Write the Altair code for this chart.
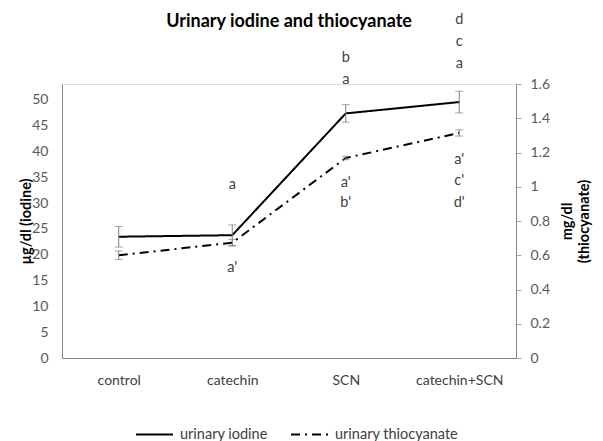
import altair as alt
import pandas as pd

categories = ["control", "catechin", "SCN", "catechin+SCN"]
iodine = [23.5, 23.8, 47.4, 49.6]
iodine_err = [2.0, 2.0, 1.7, 2.1]
thio = [0.60, 0.673, 1.168, 1.314]
thio_err = [0.025, 0.02, 0.01, 0.018]
series_names = ["urinary iodine", "urinary thiocyanate"]

# significance letters (category, letter, height in iodine units)
letter_cats = ["catechin", "catechin", "SCN", "SCN", "SCN", "SCN",
               "catechin+SCN", "catechin+SCN", "catechin+SCN",
               "catechin+SCN", "catechin+SCN", "catechin+SCN"]
letter_text = ["a", "a'", "b", "a", "a'", "b'", "d", "c", "a", "a'", "c'", "d'"]
letter_y = [33.5, 17.4, 58.1, 53.9, 33.9, 30.0, 65.5, 61.2, 57.0, 38.4, 34.3, 30.0]

FONT = "Lato"
GRAY_AX = "#868686"
TXT = "#404040"

df_i = pd.DataFrame({"category": categories, "value": iodine,
                     "lo": [v - e for v, e in zip(iodine, iodine_err)],
                     "hi": [v + e for v, e in zip(iodine, iodine_err)],
                     "series": series_names[0]})
df_t = pd.DataFrame({"category": categories, "value": thio,
                     "lo": [v - e for v, e in zip(thio, thio_err)],
                     "hi": [v + e for v, e in zip(thio, thio_err)],
                     "series": series_names[1]})
df_l = pd.DataFrame({"category": letter_cats, "label": letter_text, "y": letter_y})

x_axis = alt.Axis(title=None, labelAngle=0, ticks=False, domainColor=GRAY_AX,
                  labelColor=TXT, labelFontSize=14, labelFont=FONT, labelPadding=15)
x_scale = alt.Scale(type="point", padding=0.5)


def xenc():
    return alt.X("category:N", sort=categories, scale=x_scale, axis=x_axis)


dash = alt.StrokeDash("series:N",
                      scale=alt.Scale(domain=series_names, range=[[1, 0], [9, 5, 2, 5]]),
                      legend=alt.Legend(title=None, orient="none", direction="horizontal",
                                        legendX=73, legendY=331, symbolType="stroke",
                                        symbolSize=1369, symbolStrokeWidth=2,
                                        symbolStrokeColor="black",
                                        labelFont=FONT, labelFontSize=14.5, labelColor=TXT,
                                        labelOffset=6, columnPadding=19))

scale_i = alt.Scale(domain=[0, 53.1], nice=False, zero=True)
scale_t = alt.Scale(domain=[0, 1.6], nice=False, zero=True)

axis_i = alt.Axis(title="µg/dl (iodine)", values=list(range(0, 55, 5)), ticks=False,
                  grid=False, domainColor=GRAY_AX, labelColor="#595959",
                  labelFont=FONT, labelFontSize=14, labelPadding=14,
                  titleFont=FONT, titleFontSize=14.5, titleFontWeight="bold",
                  titleColor="black", titlePadding=-2)
axis_t = alt.Axis(orient="right", title=["mg/dl", "(thiocyanate)"],
                  values=[0, 0.2, 0.4, 0.6, 0.8, 1, 1.2, 1.4, 1.6],
                  format="~g", tickSize=5, tickColor="#a6a6a6", grid=False,
                  domainColor=GRAY_AX, labelColor="#595959", labelFont=FONT,
                  labelFontSize=14, labelPadding=9, titleFont=FONT,
                  titleFontSize=14.5, titleFontWeight="bold", titleColor="black",
                  titleAngle=270, titlePadding=8, titleLineHeight=17)


def build(df, scale, axis, extra=None):
    y = lambda f: alt.Y(f, scale=scale, axis=axis)
    line = alt.Chart(df).mark_line(color="black", strokeWidth=2).encode(
        x=xenc(), y=y("value:Q"), strokeDash=dash)
    rule = alt.Chart(df).mark_rule(color="#7f7f7f", strokeWidth=1).encode(
        x=xenc(), y=y("lo:Q"), y2="hi:Q")
    caplo = alt.Chart(df).mark_tick(color="#7f7f7f", thickness=1, size=8).encode(
        x=xenc(), y=y("lo:Q"))
    caphi = alt.Chart(df).mark_tick(color="#7f7f7f", thickness=1, size=8).encode(
        x=xenc(), y=y("hi:Q"))
    layers = [line, rule, caplo, caphi]
    if extra is not None:
        layers.append(extra)
    return alt.layer(*layers)


letters = alt.Chart(df_l).mark_text(font=FONT, fontSize=14.5, color=TXT).encode(
    x=xenc(), y=alt.Y("y:Q", scale=scale_i, axis=axis_i), text="label:N")

layer_i = build(df_i, scale_i, axis_i, letters)
layer_t = build(df_t, scale_t, axis_t)

chart = alt.layer(layer_i, layer_t).resolve_scale(y="independent").properties(
    width=454, height=274,
    title=alt.TitleParams("Urinary iodine and thiocyanate", font=FONT, fontSize=18,
                          fontWeight="bold", color="black", anchor="middle", offset=-19),
    autosize=alt.AutoSizeParams(type="none"),
    padding={"left": 54, "top": 76, "right": 79, "bottom": 83},
).configure_view(stroke="transparent").configure(background="white")

chart.save("out.html", embed_options={"renderer": "svg", "actions": False})
